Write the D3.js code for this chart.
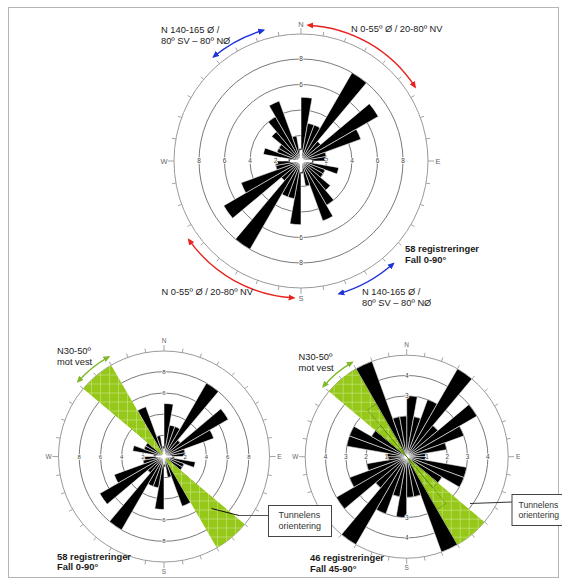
<!DOCTYPE html>
<html>
<head>
<meta charset="utf-8">
<script src="https://cdn.jsdelivr.net/npm/d3@7"></script>
<style>
  body { margin: 0; background: #fff; }
  svg { display: block; }
  text { font-family: "Liberation Sans", Arial, sans-serif; }
</style>
</head>
<body>
<svg id="chart" width="562" height="580"></svg>
<script>
// Strike rose diagrams: 10° bins from 0° to 180°, each bin drawn on both sides (axial data)
const binStarts = d3.range(0, 180, 10);
const countsAll   = [5, 3, 3, 8, 2, 7, 5, 2, 2, 1, 3, 2, 2, 3, 4, 5, 2, 1];   // fall 0-90°
const countsSteep = [3, 2, 3, 5, 2, 4, 3, 2, 1, 1, 3, 3, 2, 2, 3, 5, 2, 2];   // fall 45-90°
const ringsAll   = [2, 4, 6, 8];
const ringsSteep = [1, 2, 3, 4];
const compassLabels = ["N", "E", "S", "W"];
const tunnelSector = [310, 330];            // N30-50° mot vest

const setA = { text: ["N 0-55º Ø / 20-80º NV"], range: [0, 55], color: "#e8231e" };
const setB = { text: ["N 140-165 Ø /", "80º SV – 80º NØ"], range: [140, 165], color: "#1f33d8" };
const titleAll   = ["58 registreringer", "Fall 0-90°"];
const titleSteep = ["46 registreringer", "Fall 45-90°"];
const tunnelText = ["N30-50º", "mot vest"];
const tunnelBox  = ["Tunnelens", "orientering"];

const GREEN = "#96c81a";
const svg = d3.select("#chart");
const rad = d => d * Math.PI / 180;

// page frame
svg.append("rect").attr("x", 8.5).attr("y", 7.5).attr("width", 550).attr("height", 570)
  .attr("fill", "none").attr("stroke", "#b4b4b4").attr("stroke-width", 1);

const defs = svg.append("defs");
// light grid texture for the tunnel sector
const pat = defs.append("pattern").attr("id", "grid").attr("patternUnits", "userSpaceOnUse")
  .attr("width", 9).attr("height", 9);
pat.append("rect").attr("width", 9).attr("height", 9).attr("fill", GREEN);
pat.append("path").attr("d", "M8.5 0V9M0 8.5H9").attr("stroke", "#c9e68a").attr("stroke-width", 0.6);

function marker(id, color) {
  defs.append("marker").attr("id", id).attr("viewBox", "0 0 8 8").attr("refX", 6).attr("refY", 4)
    .attr("markerWidth", 7).attr("markerHeight", 7).attr("markerUnits", "userSpaceOnUse")
    .attr("orient", "auto-start-reverse")
    .append("path").attr("d", "M0,0.5 L8,4 L0,7.5 Z").attr("fill", color);
}
marker("mA", setA.color);
marker("mB", setB.color);
marker("mG", "#7fb82a");

function arcArrow(cx, cy, r, a0, a1, color, id) {
  const p = d3.path();
  p.arc(cx, cy, r, rad(a0 - 90), rad(a1 - 90), false);
  svg.append("path").attr("d", p.toString()).attr("fill", "none")
    .attr("stroke", color).attr("stroke-width", 1.4)
    .attr("marker-start", `url(#${id})`).attr("marker-end", `url(#${id})`);
}

function textBlock(x, y, lines, opts = {}) {
  const t = svg.append("text").attr("x", x).attr("y", y)
    .attr("font-size", opts.size || 9.3).attr("fill", opts.fill || "#1a1a1a")
    .attr("font-weight", opts.bold ? "bold" : "normal");
  lines.forEach((s, i) => t.append("tspan").attr("x", x).attr("dy", i ? (opts.lh || 11) : 0).text(s));
}

function drawRose(o) {
  const g = svg.append("g").attr("transform", `translate(${o.cx},${o.cy})`);
  const maxRing = d3.max(o.rings);
  const r = d3.scaleLinear().domain([0, maxRing]).range([0, o.ringR]);
  const outerR = o.outerR;

  // petal records, both directions
  const petals = binStarts.flatMap((a, i) => [{ a, v: o.counts[i] }, { a: a + 180, v: o.counts[i] }]);
  const petalArc = d3.arc().innerRadius(0).outerRadius(d => r(d.v))
    .startAngle(d => rad(d.a)).endAngle(d => rad(d.a + 10));

  // outer circle with 10° ticks
  g.append("circle").attr("r", outerR).attr("fill", "none").attr("stroke", "#9a9a9a").attr("stroke-width", 1);
  g.selectAll("line.tick").data(d3.range(0, 360, 10)).join("line").attr("class", "tick")
    .attr("x1", d => outerR * Math.sin(rad(d))).attr("y1", d => -outerR * Math.cos(rad(d)))
    .attr("x2", d => (outerR + (d % 90 ? 4 : 6)) * Math.sin(rad(d)))
    .attr("y2", d => -(outerR + (d % 90 ? 4 : 6)) * Math.cos(rad(d)))
    .attr("stroke", "#9a9a9a").attr("stroke-width", 0.9);
  g.selectAll("text.cmp").data(compassLabels).join("text").attr("class", "cmp")
    .attr("x", (d, i) => (outerR + 10) * Math.sin(rad(i * 90)))
    .attr("y", (d, i) => -(outerR + 10) * Math.cos(rad(i * 90)))
    .attr("dy", "0.35em").attr("text-anchor", "middle")
    .attr("font-size", o.cmpSize || 7.5).attr("fill", "#666").text(d => d);

  // count rings
  g.selectAll("circle.ring").data(o.rings).join("circle").attr("class", "ring")
    .attr("r", d => r(d)).attr("fill", "none").attr("stroke", "#6a6a6a").attr("stroke-width", 0.9);

  // petals
  g.append("g").selectAll("path").data(petals.filter(d => d.v > 0)).join("path")
    .attr("d", petalArc).attr("fill", "#000").attr("stroke", "#fff").attr("stroke-width", 0.55);

  // tunnel sector
  if (o.sector) {
    const sec = [o.sector, [o.sector[0] - 180, o.sector[1] - 180]];
    const secArc = d3.arc().innerRadius(0).outerRadius(outerR)
      .startAngle(d => rad(d[0])).endAngle(d => rad(d[1]));
    g.append("g").selectAll("path").data(sec).join("path").attr("d", secArc).attr("fill", "url(#grid)");
    if (o.sectorEdges) {
      const cid = "clip" + Math.round(o.cx);
      const cp = defs.append("clipPath").attr("id", cid);
      sec.forEach(s => cp.append("path").attr("transform", `translate(${o.cx},${o.cy})`).attr("d", secArc(s)));
      svg.append("g").attr("clip-path", `url(#${cid})`).append("g")
        .attr("transform", `translate(${o.cx},${o.cy})`)
        .selectAll("path").data(petals.filter(d => d.v > 0)).join("path")
        .attr("d", petalArc).attr("fill", "none").attr("stroke", "#3f6a08")
        .attr("stroke-width", 0.7).attr("stroke-opacity", 0.55);
    }
  }

  // white centre with short axis cross
  if (o.cross) {
    g.append("path").attr("d", `M${-o.cross},0H${o.cross}M0,${-o.cross}V${o.cross}`)
      .attr("stroke", "#fff").attr("stroke-width", o.crossW || 1.8);
  }
  g.append("circle").attr("r", o.hub).attr("fill", "#fff");

  // ring value labels along the four axes, left out where a petal covers them
  const valueAt = ang => {
    const i = Math.floor(((ang % 180) + 180) % 180 / 10);
    return o.counts[i];
  };
  const lab = [];
  [0, 90, 180, 270].forEach(ax => {
    const cover = Math.max(valueAt(ax - 5 + 360), valueAt(ax + 5));
    o.rings.forEach(v => { if (!(cover > v)) lab.push({ ax, v }); });
  });
  g.selectAll("text.rl").data(lab).join("text").attr("class", "rl")
    .attr("x", d => r(d.v) * Math.sin(rad(d.ax))).attr("y", d => -r(d.v) * Math.cos(rad(d.ax)))
    .attr("dy", "0.35em").attr("text-anchor", "middle")
    .attr("font-size", o.lblSize || 6.5).attr("fill", "#444")
    .attr("stroke", "#fff").attr("stroke-width", 1.6).attr("paint-order", "stroke")
    .text(d => d.v);
}

// top rose, fall 0-90°
drawRose({ cx: 301, cy: 161, ringR: 102, outerR: 127, rings: ringsAll, counts: countsAll,
  hub: 3, cross: 11, crossW: 2 });
// bottom left, same data with tunnel direction
drawRose({ cx: 164, cy: 456.5, ringR: 84.8, outerR: 105.5, rings: ringsAll, counts: countsAll,
  hub: 2.5, cross: 8, crossW: 1.5, sector: tunnelSector, cmpSize: 6.5, lblSize: 6 });
// bottom right, fall 45-90°
drawRose({ cx: 406.7, cy: 456.7, ringR: 81.2, outerR: 101.5, rings: ringsSteep, counts: countsSteep,
  hub: 2.5, sector: tunnelSector, sectorEdges: true, cmpSize: 6.5, lblSize: 6.5 });

// joint set arrows around the top rose
arcArrow(301, 161, 136, setA.range[0] + 3, setA.range[1] + 2, setA.color, "mA");
arcArrow(301, 161, 137, setA.range[0] + 183, setA.range[1] + 180, setA.color, "mA");
arcArrow(301, 161, 136, setB.range[0] + 180, setB.range[1] + 179, setB.color, "mB");
arcArrow(301, 161, 138, setB.range[0] - 2, setB.range[1] - 1, setB.color, "mB");

textBlock(351, 32, setA.text);
textBlock(161.5, 295, setA.text);
textBlock(161, 32.5, setB.text);
textBlock(362, 295, setB.text);
textBlock(405, 252.3, titleAll, { bold: true, size: 9.4, lh: 10.5 });

// tunnel direction arrows and notes
arcArrow(164, 456.5, 114, tunnelSector[0] + 1, tunnelSector[1] + 1, "#7fb82a", "mG");
arcArrow(406.7, 456.7, 109, tunnelSector[0], tunnelSector[1], "#7fb82a", "mG");
textBlock(57, 353.5, tunnelText, { lh: 11.2 });
textBlock(298.5, 360, tunnelText, { lh: 11 });
textBlock(57, 560, titleAll, { bold: true, size: 9.4, lh: 9.5 });
textBlock(310, 561, titleSteep, { bold: true, size: 9.4, lh: 10.5 });

// leader lines and boxes
svg.append("path").attr("d", "M211.5,508.5 L239,515.5").attr("stroke", "#111").attr("stroke-width", 1).attr("fill", "none");
svg.append("path").attr("d", "M239,515.5 L268.5,515.5").attr("stroke", "#555").attr("stroke-width", 1).attr("fill", "none");
svg.append("path").attr("d", "M470,503.5 L512,502").attr("stroke", "#333").attr("stroke-width", 1).attr("fill", "none");
svg.append("rect").attr("x", 268.5).attr("y", 505.5).attr("width", 63).attr("height", 31)
  .attr("fill", "#fff").attr("stroke", "#444").attr("stroke-width", 1);
svg.append("rect").attr("x", 512).attr("y", 494.5).attr("width", 60).attr("height", 31)
  .attr("fill", "#fff").attr("stroke", "#444").attr("stroke-width", 1);
textBlock(278.5, 518, tunnelBox, { size: 9, fill: "#333", lh: 11 });
textBlock(518.5, 507.5, tunnelBox, { size: 8.6, fill: "#333", lh: 10.5 });
</script>
</body>
</html>
